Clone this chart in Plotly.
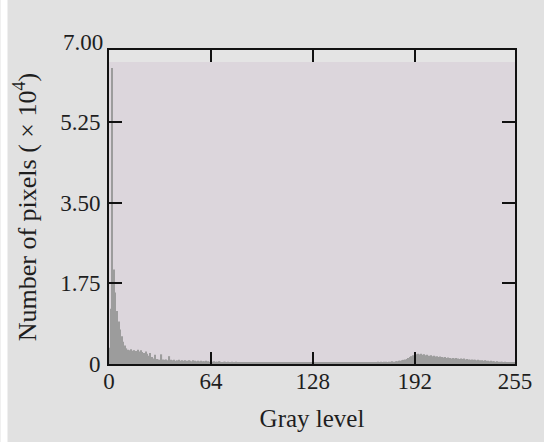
import plotly.graph_objects as go

gray_levels = list(range(256))
counts = [
    0.35, 1.20, 6.42, 2.05, 1.55, 1.15, 0.92, 0.75, 0.60, 0.48, 0.40, 0.34,
    0.31, 0.30, 0.32, 0.29, 0.30, 0.28, 0.31, 0.27, 0.30, 0.26, 0.24, 0.27,
    0.22, 0.18, 0.24, 0.15, 0.12, 0.20, 0.11, 0.10, 0.09, 0.21, 0.10, 0.09,
    0.10, 0.08, 0.17, 0.09, 0.08, 0.09, 0.07, 0.08, 0.09, 0.07, 0.08, 0.07,
    0.08, 0.07, 0.08, 0.07, 0.06, 0.08, 0.07, 0.06, 0.07, 0.06, 0.07, 0.06,
    0.06, 0.07, 0.06, 0.05, 0.06, 0.05, 0.06, 0.05, 0.05, 0.06, 0.05, 0.04,
    0.05, 0.05, 0.04, 0.05, 0.04, 0.05, 0.04, 0.04, 0.05, 0.04, 0.04, 0.03,
    0.04, 0.04, 0.03, 0.04, 0.03, 0.04, 0.03, 0.03, 0.04, 0.03, 0.03, 0.04,
    0.03, 0.03, 0.04, 0.03, 0.03, 0.03, 0.04, 0.03, 0.03, 0.03, 0.03, 0.04,
    0.03, 0.03, 0.03, 0.03, 0.04, 0.03, 0.03, 0.03, 0.03, 0.03, 0.04, 0.03,
    0.03, 0.03, 0.03, 0.04, 0.03, 0.03, 0.03, 0.03, 0.04, 0.03, 0.03, 0.03,
    0.03, 0.04, 0.03, 0.03, 0.03, 0.03, 0.03, 0.04, 0.03, 0.03, 0.03, 0.03,
    0.04, 0.03, 0.03, 0.03, 0.03, 0.03, 0.04, 0.03, 0.03, 0.03, 0.03, 0.04,
    0.03, 0.03, 0.04, 0.03, 0.04, 0.03, 0.04, 0.04, 0.03, 0.04, 0.04, 0.04,
    0.04, 0.05, 0.04, 0.05, 0.04, 0.05, 0.05, 0.04, 0.05, 0.05, 0.06, 0.05,
    0.06, 0.06, 0.07, 0.07, 0.08, 0.09, 0.10, 0.11, 0.13, 0.15, 0.17, 0.19,
    0.20, 0.21, 0.22, 0.21, 0.22, 0.20, 0.21, 0.19, 0.20, 0.18, 0.19, 0.17,
    0.18, 0.16, 0.17, 0.15, 0.16, 0.15, 0.14, 0.15, 0.13, 0.14, 0.13, 0.12,
    0.13, 0.12, 0.13, 0.12, 0.11, 0.12, 0.11, 0.12, 0.10, 0.11, 0.10, 0.09,
    0.10, 0.09, 0.09, 0.08, 0.09, 0.08, 0.08, 0.07, 0.08, 0.07, 0.07, 0.06,
    0.07, 0.06, 0.06, 0.05, 0.06, 0.05, 0.05, 0.05, 0.04, 0.05, 0.04, 0.04,
    0.04, 0.03, 0.04, 0.03,
]
x_ticks = [0, 64, 128, 192, 255]
y_ticks = [0, 1.75, 3.5, 5.25]
y_tick_text = ["0", "1.75", "3.50", "5.25"]
y_top_label = "7.00"

FONT = "Liberation Serif, Times New Roman, serif"
TXT = "#1e1e1e"

fig = go.Figure()
fig.add_trace(go.Bar(
    x=gray_levels, y=counts,
    marker=dict(color="#9c9c9c", line=dict(width=0)),
    showlegend=False,
))

fig.update_layout(
    width=544, height=442, autosize=False,
    margin=dict(l=109, r=27, t=50, b=78),
    paper_bgcolor="#e1e1e1",
    plot_bgcolor="#e4e4e4",
    bargap=0.3,
    font=dict(family=FONT, size=23, color=TXT),
    shapes=[
        dict(type="rect", xref="x", yref="y", x0=0, x1=255, y0=0, y1=6.55,
             fillcolor="#dcd6dc", line=dict(width=0), layer="below"),
        dict(type="rect", xref="paper", yref="paper", x0=-0.2672, x1=-0.25,
             y0=-0.3, y1=1.2, fillcolor="white", line=dict(width=0), layer="below"),
    ],
    annotations=[
        dict(text=y_top_label, xref="paper", yref="paper", x=0, y=1.025,
             xanchor="right", yanchor="middle", xshift=-4, showarrow=False,
             font=dict(family=FONT, size=23, color=TXT)),
    ],
)

fig.update_xaxes(
    range=[0, 255], tickvals=x_ticks, ticktext=[str(v) for v in x_ticks],
    ticks="inside", ticklen=12, tickwidth=2, tickcolor="#111",
    ticklabelstandoff=-5,
    showline=True, linecolor="#111", linewidth=2, mirror="ticks",
    showgrid=False, zeroline=False,
    title=dict(text="Gray level", font=dict(family=FONT, size=25, color=TXT), standoff=17),
)
fig.update_yaxes(
    range=[0, 6.81], tickvals=y_ticks, ticktext=y_tick_text,
    ticks="inside", ticklen=13, tickwidth=2, tickcolor="#111",
    ticklabelstandoff=2,
    showline=True, linecolor="#111", linewidth=2, mirror="ticks",
    showgrid=False, zeroline=False,
    title=dict(text="Number of pixels ( × 10<sup>4</sup>)", font=dict(family=FONT, size=26, color=TXT), standoff=16),
)

fig.write_html("out.html")
